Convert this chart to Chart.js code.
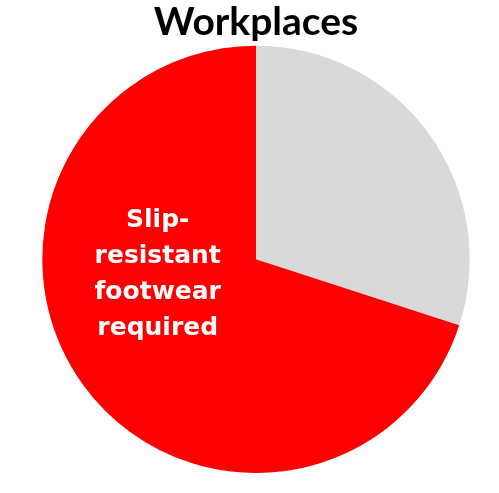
<!DOCTYPE html>
<html>
<head>
<meta charset="utf-8">
<title>Workplaces</title>
<script src="https://cdn.jsdelivr.net/npm/chart.js@4/dist/chart.umd.min.js"></script>
<style>
    html, body { margin: 0; padding: 0; background: #ffffff; }
    #wrap { width: 499px; height: 493px; position: relative; }
</style>
</head>
<body>
<div id="wrap"><canvas id="pieChart"></canvas></div>
<script>
// Données du graphique
const categories = ['Other', 'Slip-resistant footwear required'];
const shares = [30, 70];
const sliceColors = ['#d9d9d9', '#ff0000'];
const sliceLabelLines = [null, ['Slip-', 'resistant', 'footwear', 'required']];

// Étiquette blanche dans la part rouge
const sliceLabels = {
    id: 'sliceLabels',
    afterDatasetsDraw(chart) {
        const ctx = chart.ctx;
        const meta = chart.getDatasetMeta(0);
        meta.data.forEach((arc, i) => {
            const lines = sliceLabelLines[i];
            if (!lines) return;
            const r = arc.outerRadius;
            const cx = arc.x - 0.46 * r;
            const cy = arc.y + 0.07 * r;
            const lh = 36;
            ctx.save();
            ctx.fillStyle = '#ffffff';
            ctx.font = 'bold 25px "DejaVu Sans"';
            ctx.textAlign = 'center';
            ctx.textBaseline = 'middle';
            lines.forEach((t, k) => {
                ctx.fillText(t, cx, cy + (k - (lines.length - 1) / 2) * lh);
            });
            ctx.restore();
        });
    }
};

new Chart(document.getElementById('pieChart'), {
    type: 'pie',
    data: {
        labels: categories,
        datasets: [{
            data: shares,
            backgroundColor: sliceColors,
            borderWidth: 0
        }]
    },
    options: {
        responsive: true,
        maintainAspectRatio: false,
        animation: false,
        layout: { padding: { top: 0, bottom: 20, left: 13, right: 0 } },
        plugins: {
            legend: { display: false },
            tooltip: { enabled: false },
            title: {
                display: true,
                text: 'Workplaces',
                color: '#000000',
                font: { family: 'Lato', size: 39, weight: 'bold', lineHeight: 1.17 },
                padding: 0
            }
        }
    },
    plugins: [sliceLabels]
});
</script>
</body>
</html>
